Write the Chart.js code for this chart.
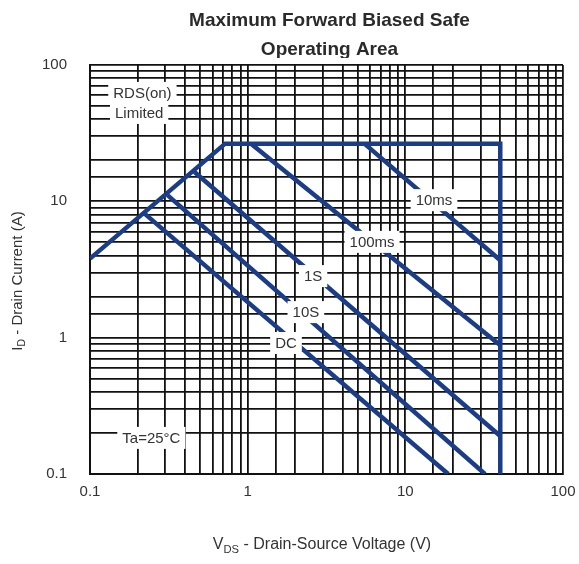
<!DOCTYPE html>
<html>
<head>
<meta charset="utf-8">
<script src="https://cdn.jsdelivr.net/npm/chart.js@4"></script>
<style>
  html, body { margin: 0; padding: 0; background: #fff; }
  #wrap { width: 579px; height: 564px; }
</style>
</head>
<body>
<div id="wrap"><canvas id="soa" width="579" height="564"></canvas></div>
<script>
// axis ranges and labelled decades
const vdsRange = [0.1, 100];
const idRange = [0.1, 100];
const decadeLabels = [0.1, 1, 10, 100];

// boundary: RDS(on) limit, current limit, voltage limit
const limitV = [0.1, 0.72, 40, 40];
const limitI = [3.8, 26.5, 26.5, 0.1];

// pulse lines
const v10ms = [5.5, 40];   const i10ms = [26.5, 3.7];
const v100ms = [1.05, 40]; const i100ms = [26.5, 0.88];
const v1s = [0.46, 40];    const i1s = [16.4, 0.19];
const v10s = [0.31, 32];   const i10s = [11.1, 0.1];
const vdc = [0.22, 18.7];  const idc = [8.2, 0.1];

// in-plot notes (text, V, I)
const noteText = ['10ms', '100ms', '1S', '10S', 'DC', 'RDS(on)', 'Limited', 'Ta=25°C'];
const noteV = [15.2, 6.15, 2.6, 2.34, 1.75, 0.215, 0.205, 0.245];
const noteI = [10.2, 5.04, 2.83, 1.54, 0.914, 62.4, 44.5, 0.184];

const navy = '#1b3c86';
const font = '"Liberation Sans", Arial, sans-serif';

function pts(xs, ys) {
    return xs.map((x, i) => ({ x: x, y: ys[i] }));
}

function line(xs, ys) {
    return {
        data: pts(xs, ys),
        showLine: true,
        borderColor: navy,
        borderWidth: 4.5,
        pointRadius: 0,
        fill: false
    };
}

function tickLabel(v) {
    const l = Math.log10(v);
    if (Math.abs(l - Math.round(l)) > 1e-6) return '';
    return decadeLabels.some(d => Math.abs(d - v) < 1e-9) ? String(v) : '';
}

// draws text with subscript, left to right from x
function drawSub(ctx, parts, x, y, size) {
    let cx = x;
    parts.forEach(p => {
        const s = p.sub ? size * 0.7 : size;
        ctx.font = s + 'px ' + font;
        ctx.fillText(p.t, cx, p.sub ? y + size * 0.3 : y);
        cx += ctx.measureText(p.t).width;
    });
    return cx - x;
}

function measureSub(ctx, parts, size) {
    let w = 0;
    parts.forEach(p => {
        ctx.font = (p.sub ? size * 0.7 : size) + 'px ' + font;
        w += ctx.measureText(p.t).width;
    });
    return w;
}

const decor = {
    id: 'decor',
    beforeDraw(chart) {
        const ctx = chart.ctx;
        const a = chart.chartArea;
        const cx = (a.left + a.right) / 2 + 3;
        ctx.save();
        ctx.fillStyle = '#2a2a2a';
        ctx.textAlign = 'center';
        ctx.textBaseline = 'middle';
        ctx.font = 'bold 19px ' + font;
        ctx.fillText('Maximum Forward Biased Safe', cx, 21);
        ctx.beginPath();
        ctx.rect(0, 0, chart.width, a.top - 7);
        ctx.clip();
        ctx.fillText('Operating Area', cx, 50);
        ctx.restore();
    },
    afterDatasetsDraw(chart) {
        const ctx = chart.ctx;
        const xs = chart.scales.x, ys = chart.scales.y;
        ctx.save();
        ctx.font = '15px ' + font;
        ctx.textAlign = 'center';
        ctx.textBaseline = 'middle';
        noteText.forEach((t, i) => {
            const px = xs.getPixelForValue(noteV[i]);
            const py = ys.getPixelForValue(noteI[i]);
            const w = ctx.measureText(t).width;
            ctx.fillStyle = '#fff';
            ctx.fillRect(px - w / 2 - 5, py - 11, w + 10, 22);
            ctx.fillStyle = '#333';
            ctx.fillText(t, px, py + 1);
        });
        ctx.restore();
    },
    afterDraw(chart) {
        const ctx = chart.ctx;
        ctx.save();
        ctx.fillStyle = '#333';
        ctx.textBaseline = 'middle';
        ctx.textAlign = 'left';
        // x title
        const xt = [{ t: 'V' }, { t: 'DS', sub: true }, { t: ' - Drain-Source Voltage (V)' }];
        const xw = measureSub(ctx, xt, 16);
        drawSub(ctx, xt, 322 - xw / 2, 545, 16);
        // y title
        const yt = [{ t: 'I' }, { t: 'D', sub: true }, { t: ' - Drain Current (A)' }];
        const yw = measureSub(ctx, yt, 15);
        ctx.translate(18, 281);
        ctx.rotate(-Math.PI / 2);
        drawSub(ctx, yt, -yw / 2, 0, 15);
        ctx.restore();
    }
};

const ctx = document.getElementById('soa').getContext('2d');
new Chart(ctx, {
    type: 'scatter',
    data: {
        datasets: [
            line(limitV, limitI),
            line(v10ms, i10ms),
            line(v100ms, i100ms),
            line(v1s, i1s),
            line(v10s, i10s),
            line(vdc, idc)
        ]
    },
    options: {
        responsive: false,
        animation: false,
        layout: { padding: { top: 65, right: 16, left: 0, bottom: 0 } },
        scales: {
            x: {
                type: 'logarithmic',
                min: vdsRange[0],
                max: vdsRange[1],
                afterFit: s => { s.height = 90; s.paddingLeft = 0; s.paddingRight = 0; },
                grid: { color: '#111', lineWidth: 1.8, drawTicks: false },
                border: { color: '#111', width: 2 },
                ticks: {
                    autoSkip: false,
                    maxRotation: 0,
                    padding: 9,
                    color: '#333',
                    font: { family: font, size: 15 },
                    callback: tickLabel
                }
            },
            y: {
                type: 'logarithmic',
                min: idRange[0],
                max: idRange[1],
                afterFit: s => { s.width = 90; s.paddingTop = 0; s.paddingBottom = 0; },
                grid: { color: '#111', lineWidth: 1.8, drawTicks: false },
                border: { color: '#111', width: 2 },
                ticks: {
                    autoSkip: false,
                    padding: 23,
                    color: '#333',
                    font: { family: font, size: 15 },
                    callback: tickLabel
                }
            }
        },
        plugins: {
            legend: { display: false },
            tooltip: { enabled: false },
            title: { display: false }
        }
    },
    plugins: [decor]
});
</script>
</body>
</html>
